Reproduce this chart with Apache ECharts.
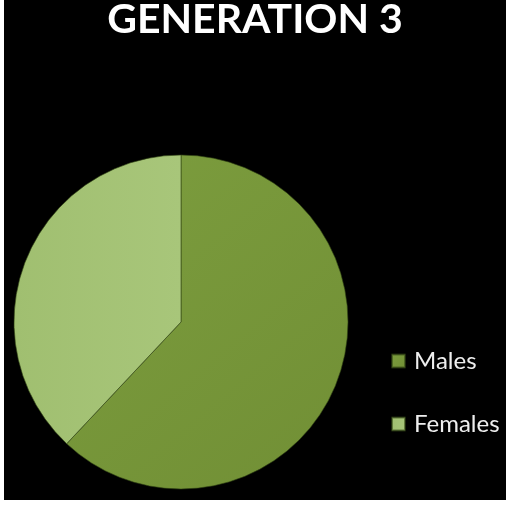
<!DOCTYPE html>
<html><head><meta charset="utf-8">
<script src="https://cdn.jsdelivr.net/npm/echarts@6/dist/echarts.min.js"></script>
<style>
html,body{margin:0;padding:0;background:#fff;}
#c{position:absolute;left:4px;top:0;width:502px;height:500px;background:#000;}
</style></head><body>
<div id="c"></div>
<script>
const categories = ["Males", "Females"];
const values = [62, 38];
const titleText = "GENERATION 3";
const colors = [
  {type:'linear', x:0, y:0, x2:1, y2:1, colorStops:[{offset:0,color:'#7c9d3e'},{offset:1,color:'#718f35'}]},
  {type:'linear', x:0, y:0, x2:1, y2:0, colorStops:[{offset:0,color:'#a0bf70'},{offset:1,color:'#a8c67a'}]}
];
const chart = echarts.init(document.getElementById('c'));
chart.setOption({
  backgroundColor:'#000',
  animation:false,
  title:{text:titleText, left:'center', top:-6,
    textStyle:{color:'#fff', fontFamily:'Lato', fontWeight:'bold', fontSize:41}},
  legend:{orient:'vertical', left:382, top:344, itemGap:39, itemWidth:13, itemHeight:13,
    icon:'rect', data:categories,
    textStyle:{color:'#eee', fontFamily:'Lato', fontSize:24, padding:[0,0,0,4]}},
  series:[{type:'pie', center:[177,322], radius:[0,167], startAngle:90, clockwise:true,
    label:{show:false}, labelLine:{show:false},
    itemStyle:{borderColor:'rgba(50,70,20,0.6)', borderWidth:1},
    data:categories.map((n,i)=>({name:n, value:values[i], itemStyle:{color:colors[i]}}))
  }]
});
</script></body></html>
